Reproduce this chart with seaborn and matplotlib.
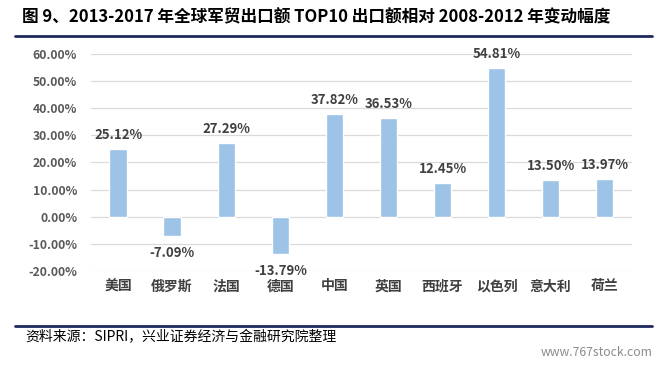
import pandas as pd
import matplotlib.pyplot as plt
import seaborn as sns
from matplotlib.lines import Line2D

countries = ['美国', '俄罗斯', '法国', '德国', '中国', '英国', '西班牙', '以色列', '意大利', '荷兰']
change_pct = [25.12, -7.09, 27.29, -13.79, 37.82, 36.53, 12.45, 54.81, 13.50, 13.97]
y_ticks = [-20, -10, 0, 10, 20, 30, 40, 50, 60]

sns.set_theme(style='white')
plt.rcParams['font.family'] = ['Noto Sans CJK SC', 'DejaVu Sans']
plt.rcParams['axes.unicode_minus'] = False

df = pd.DataFrame({'country': countries, 'value': change_pct})

fig = plt.figure(figsize=(6.62, 3.66), dpi=100)
ax = fig.add_axes([0.1375, 0.2596, 0.817, 0.593])
sns.barplot(data=df, x='country', y='value', color='#9DC3E6', saturation=1, width=0.32, ax=ax)

ax.set_ylim(-20, 60)
ax.set_xlim(-0.5, len(countries) - 0.5)
ax.set_yticks(y_ticks)
ax.set_yticklabels([f'{t:.2f}%' for t in y_ticks], fontsize=8.8, fontweight='bold', color='#595959')
ax.set_xticks(range(len(countries)))
ax.set_xticklabels(countries, fontsize=10, fontweight='bold', color='#404040')
ax.tick_params(axis='y', length=0, pad=10)
ax.tick_params(axis='x', length=0, pad=6)
ax.set_xlabel('')
ax.set_ylabel('')
ax.grid(axis='y', color='#D9D9D9', linewidth=0.9)
ax.set_axisbelow(True)
for s in ax.spines.values():
    s.set_visible(False)

for i, v in enumerate(change_pct):
    if v >= 0:
        ax.annotate(f'{v:.2f}%', (i, v), xytext=(0, 5), textcoords='offset points',
                    ha='center', va='bottom', fontsize=9.5, fontweight='bold', color='#404040')
    else:
        ax.annotate(f'{v:.2f}%', (i, v), xytext=(0, -7), textcoords='offset points',
                    ha='center', va='top', fontsize=9.5, fontweight='bold', color='#404040')

fig.text(0.033, 0.953, '图 9、2013-2017 年全球军贸出口额 TOP10 出口额相对 2008-2012 年变动幅度',
         fontsize=12, fontweight='bold', color='black', va='center')
fig.add_artist(Line2D([0.023, 0.985], [0.903, 0.903], color='#1F2A5E', linewidth=2))
fig.add_artist(Line2D([0.023, 0.985], [0.109, 0.109], color='#1F2A5E', linewidth=2))
fig.text(0.038, 0.079, '资料来源：SIPRI，兴业证券经济与金融研究院整理',
         fontsize=10, color='black', va='center')
fig.text(0.985, 0.037, 'www.767stock.com', fontsize=8.8, color='#8C8C8C', ha='right', va='center')

fig.savefig('out.png', dpi=100)
